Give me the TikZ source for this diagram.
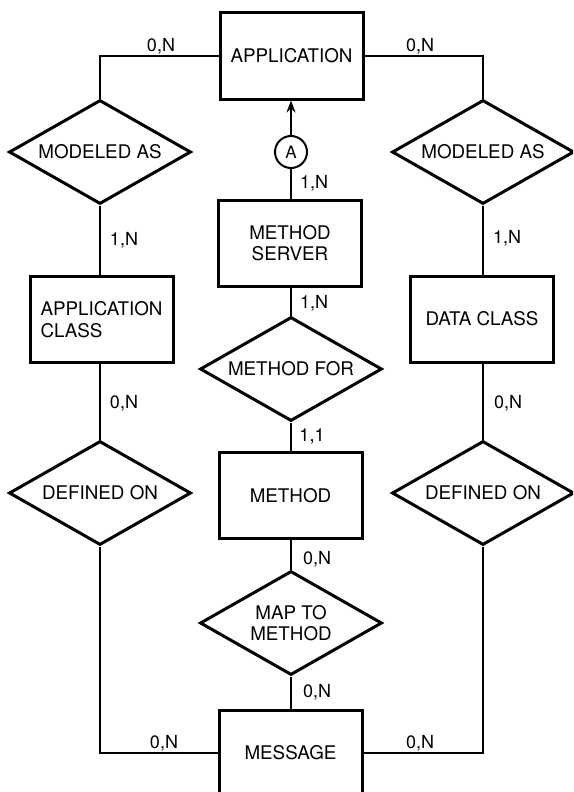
\documentclass[tikz,border=0pt]{standalone}
\usepackage{fontspec}
\setmainfont{TeX Gyre Heros}
\usetikzlibrary{shapes.geometric,arrows.meta}
\tikzset{
  entity/.style={draw, line width=3pt, rectangle, minimum width=143pt, minimum height=86pt, inner sep=0pt, align=center, font=\fontsize{18.8}{21.5}\selectfont},
  rel/.style={draw, line width=3pt, diamond, shape aspect=1.75, minimum width=182pt, minimum height=104pt, inner sep=0pt, align=center, font=\fontsize{18.8}{21.5}\selectfont},
  card/.style={inner sep=0pt, font=\fontsize{18}{20}\selectfont},
  conn/.style={line width=1.3pt},
  tag/.style={draw, circle, line width=2pt, minimum size=32pt, inner sep=0pt, font=\fontsize{17}{20}\selectfont}
}
\begin{document}
\begin{tikzpicture}[x=1pt,y=-1pt]
\useasboundingbox (0,0) rectangle (573,792);
\clip (0,0) rectangle (573,792);
% entities
\node[entity] (app) at (291.5,56) {APPLICATION};
\node[entity] (ms) at (290,243) {METHOD\\SERVER};
\node[entity, align=left] (ac) at (101.5,319.5) {APPLICATION\\CLASS};
\node[entity] (dc) at (482,319) {DATA CLASS};
\node[entity] (meth) at (290.5,495.5) {METHOD};
\node[entity] (msg) at (290.5,753) {MESSAGE};
% relationships
\node[rel] (modl) at (100,152) {MODELED AS};
\node[rel] (modr) at (483,152) {MODELED AS};
\node[rel] (mfor) at (291,369) {METHOD FOR};
\node[rel] (defl) at (100,493) {DEFINED ON};
\node[rel] (defr) at (483,493) {DEFINED ON};
\node[rel] (map) at (291,623) {MAP TO\\METHOD};
\node[tag] (ca) at (291,152) {A};
% connectors
\draw[conn] (app.west) -| (modl.north);
\draw[conn] (app.east) -| (modr.north);
\draw[conn] (modl.south) -- (modl.south |- ac.north);
\draw[conn] (modr.south) -- (modr.south |- dc.north);
\draw[conn] (modl.south |- ac.south) -- (defl.north);
\draw[conn] (modr.south |- dc.south) -- (defr.north);
\draw[conn] (defl.south) |- (msg.west);
\draw[conn] (defr.south) |- (msg.east);
\draw[conn] (ms.north -| ca.south) -- (ca.south);
\draw[line width=2pt, -{Stealth[length=12pt,width=9pt]}] (ca.north) -- (ca.north |- app.south);
\draw[conn] (ms.south -| mfor.north) -- (mfor.north);
\draw[conn] (mfor.south) -- (mfor.south |- meth.north);
\draw[conn] (mfor.south |- meth.south) -- (map.north);
\draw[conn] (map.south) -- (map.south |- msg.north);
% cardinalities
\node[card] (c1) at (161,46) {0,N};
\node[card] (c2) at (420,46) {0,N};
\node[card] (c3) at (314,183) {1,N};
\node[card] (c4) at (124,240) {1,N};
\node[card] (c5) at (507,238) {1,N};
\node[card] (c6) at (314,303) {1,N};
\node[card] (c7) at (124,403) {0,N};
\node[card] (c8) at (508,403) {0,N};
\node[card] (c9) at (312,436) {1,1};
\node[card] (c10) at (317,559) {0,N};
\node[card] (c11) at (317,692) {0,N};
\node[card] (c12) at (164,743) {0,N};
\node[card] (c13) at (420,743) {0,N};
\end{tikzpicture}
\end{document}
